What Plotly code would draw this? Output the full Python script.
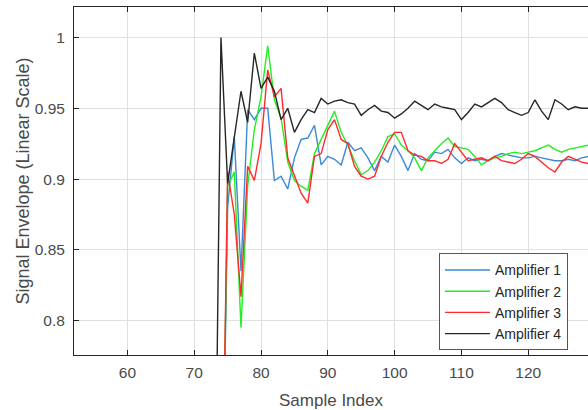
import plotly.graph_objects as go

# ---- data ----
sample_index = list(range(73, 130))  # 73 .. 129

amp1 = [None, 0.60, 0.88, 0.930, 0.835, 0.949, 0.942, 0.950, 0.950, 0.899,
        0.902, 0.893, 0.915, 0.928, 0.929, 0.938, 0.910, 0.916, 0.914, 0.910,
        0.926, 0.920, 0.922, 0.915, 0.906, 0.916, 0.912, 0.924, 0.916, 0.906,
        0.918, 0.914, 0.913, 0.919, 0.918, 0.921, 0.915, 0.911, 0.915, 0.913,
        0.914, 0.913, 0.916, 0.918, 0.917, 0.916, 0.915, 0.915, 0.916, 0.915,
        0.914, 0.913, 0.913, 0.914, 0.913, 0.915, 0.916]

amp2 = [None, 0.60, 0.895, 0.905, 0.795, 0.895, 0.935, 0.958, 0.994, 0.956,
        0.943, 0.912, 0.899, 0.895, 0.892, 0.918, 0.928, 0.938, 0.948, 0.933,
        0.924, 0.913, 0.903, 0.906, 0.912, 0.920, 0.930, 0.932, 0.924, 0.920,
        0.915, 0.906, 0.915, 0.920, 0.925, 0.929, 0.923, 0.922, 0.921, 0.916,
        0.910, 0.913, 0.915, 0.916, 0.918, 0.919, 0.918, 0.919, 0.920, 0.922,
        0.924, 0.921, 0.919, 0.921, 0.922, 0.923, 0.924]

amp3 = [None, 0.60, 0.905, 0.875, 0.817, 0.909, 0.899, 0.925, 0.977, 0.958,
        0.964, 0.915, 0.902, 0.890, 0.883, 0.916, 0.918, 0.935, 0.942, 0.928,
        0.925, 0.909, 0.902, 0.900, 0.902, 0.916, 0.926, 0.933, 0.933, 0.920,
        0.917, 0.916, 0.913, 0.913, 0.911, 0.914, 0.925, 0.919, 0.913, 0.914,
        0.915, 0.913, 0.916, 0.913, 0.912, 0.911, 0.914, 0.918, 0.916, 0.912,
        0.908, 0.905, 0.912, 0.916, 0.914, 0.912, 0.911]

amp4 = [0.60, 1.000, 0.897, 0.930, 0.962, 0.940, 0.989, 0.964, 0.972, 0.962,
        0.942, 0.950, 0.933, 0.942, 0.949, 0.947, 0.957, 0.953, 0.955, 0.956,
        0.954, 0.953, 0.945, 0.949, 0.952, 0.948, 0.947, 0.943, 0.946, 0.950,
        0.955, 0.952, 0.949, 0.953, 0.951, 0.950, 0.949, 0.942, 0.947, 0.953,
        0.951, 0.954, 0.957, 0.954, 0.949, 0.947, 0.945, 0.947, 0.956, 0.948,
        0.942, 0.956, 0.953, 0.949, 0.951, 0.950, 0.950]

series_names = ["Amplifier 1", "Amplifier 2", "Amplifier 3", "Amplifier 4"]
series_colors = ["#3a8ad6", "#22ee22", "#ff2a2a", "#262626"]
x_ticks = [60, 70, 80, 90, 100, 110, 120]
y_ticks = [0.8, 0.85, 0.9, 0.95, 1.0]

FONT = "Liberation Sans, Arial, sans-serif"
AXC = "#262626"
TXT = "#4a4a4a"

fig = go.Figure()
for name, vals, col in zip(series_names, [amp1, amp2, amp3, amp4], series_colors):
    fig.add_trace(go.Scatter(x=sample_index, y=vals, mode="lines", name=name,
                             line=dict(color=col, width=1.4), connectgaps=False))

fig.update_layout(
    width=588, height=410,
    margin=dict(l=74, r=0, t=7, b=55),
    paper_bgcolor="white", plot_bgcolor="white",
    font=dict(family=FONT, size=15.5, color=TXT),
    showlegend=True,
    legend=dict(x=0.71, y=0.292, xanchor="left", yanchor="top",
                bgcolor="white", bordercolor="#555555", borderwidth=1,
                font=dict(size=14, color="#262626"), tracegroupgap=0,
                itemwidth=45),
    xaxis=dict(range=[52.0, 128.95], tickvals=x_ticks, showgrid=True,
               gridcolor="#e0e0e0", gridwidth=1, zeroline=False,
               showline=True, linecolor=AXC, linewidth=1, mirror="ticks",
               ticks="inside", ticklen=5, tickcolor=AXC, automargin=False,
               ticklabelstandoff=3,
               title=dict(text="Sample Index", font=dict(size=17, color=TXT),
                          standoff=16)),
    yaxis=dict(range=[0.7758, 1.0215], tickvals=y_ticks, showgrid=True,
               gridcolor="#e0e0e0", gridwidth=1, zeroline=False,
               showline=True, linecolor=AXC, linewidth=1, automargin=False,
               ticks="inside", ticklen=5, tickcolor=AXC,
               ticklabelstandoff=5,
               title=dict(text="Signal Envelope (Linear Scale)",
                          font=dict(size=18, color=TXT), standoff=0)),
)

fig.write_html("out.html", config={"displayModeBar": False},
               post_script="document.body.style.margin='0';document.body.style.padding='0';")
